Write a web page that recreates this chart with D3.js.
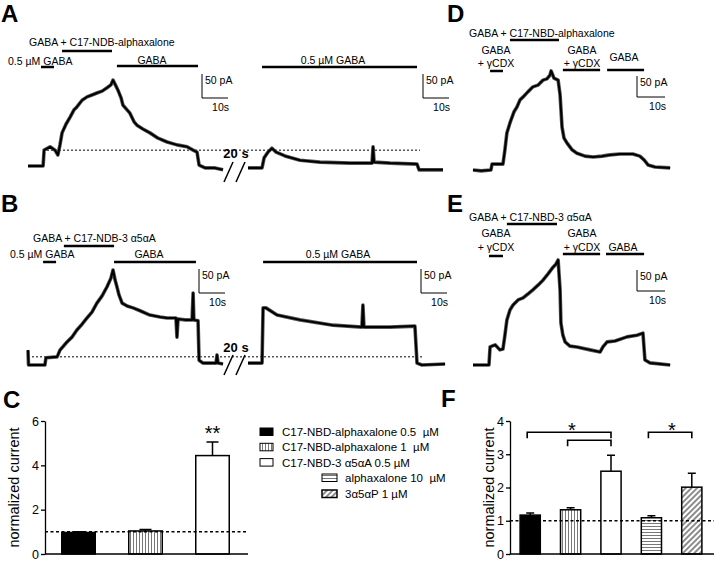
<!DOCTYPE html>
<html>
<head>
<meta charset="utf-8">
<script src="https://cdn.jsdelivr.net/npm/d3@7/dist/d3.min.js"></script>
<style>
  body { margin:0; background:#fff; }
  svg text { font-family:"Liberation Sans", Arial, sans-serif; fill:#000; white-space:pre; }
</style>
</head>
<body>
<div class="canvas"></div>
<script>
// ---- trace data, [time (s), current (pA)] ----
const traceA1 = [[0,0],[5.8,0],[6.2,33],[8.5,40],[10.4,33],[11.5,23],[12.3,44],[13.1,69],[14.6,87],[16.2,102],[17.7,117],[18.8,123],[20.8,137],[22.7,144],[24.6,148],[26.5,152],[28.5,156],[30.4,163],[31.9,169],[32.7,179],[33.8,167],[34.6,158],[35.8,142],[36.5,127],[38.1,117],[39.2,110],[40.8,92],[41.9,85],[44.2,77],[46.9,69],[50,58],[53.5,50],[57.3,44],[61.2,40],[63.5,33],[65,29],[65.8,2],[68.1,-4],[71.9,-4],[75,-8]];
const traceA2 = [[0,-4],[5.4,-4],[6.2,17],[7.7,29],[9.2,37],[10.8,29],[14.2,21],[20,12],[27.7,8],[39.2,6],[47.7,6],[48.1,40],[48.5,8],[54.6,6],[65,4],[65.8,-8],[75,-8]];
const traceB1 = [[0,31],[0.2,0],[6.5,0],[6.9,15],[11.2,17],[12.3,31],[15,48],[16.9,58],[18.8,73],[20.8,85],[22.7,98],[24.6,110],[26.5,129],[28.5,144],[30.4,163],[31.9,181],[32.7,198],[33.5,177],[34.2,163],[35,146],[36.2,129],[38.1,123],[40.4,119],[43.1,113],[46.9,104],[50.8,100],[53.5,98],[56.9,98],[57.3,58],[57.7,96],[60.4,94],[63.1,94],[63.5,150],[63.8,94],[65.4,92],[65.8,10],[67.3,4],[72.3,4],[72.7,21],[73.1,4],[75,2]];
const traceB2 = [[0,4],[5.4,4],[5.8,119],[6.9,119],[11.2,104],[20,94],[32.7,83],[43.8,79],[44.2,125],[44.6,79],[54.6,79],[64.2,81],[65,4],[66.9,0],[75.8,2]];
const traceD = [[0,0],[2.9,-2],[6.4,0],[6.8,14],[10.7,14],[11.4,48],[12.1,88],[13.2,112],[14.6,138],[15.7,150],[16.8,167],[17.9,174],[19.6,186],[21.4,198],[23.2,202],[25,214],[26.4,217],[27.5,226],[27.9,236],[28.9,219],[30.4,214],[31.1,179],[31.8,102],[32.5,76],[33.6,64],[35.4,48],[37.1,40],[40,33],[42.9,31],[46.1,33],[48.9,36],[52.5,38],[57.1,38],[59.6,33],[61.1,24],[62.5,12],[65,7],[70.4,5]];
const traceE = [[0,0],[5.7,0],[6.1,43],[7.9,48],[9.6,36],[10.7,38],[11.4,71],[12.1,107],[13.2,131],[14.3,143],[16.1,155],[17.9,160],[19.6,169],[21.4,179],[23.2,190],[25,202],[26.8,217],[28.6,233],[29.6,240],[30.4,250],[31.1,179],[31.4,100],[32.1,71],[32.9,55],[34.6,45],[37.1,43],[41.8,36],[45.4,31],[46.4,43],[47.9,55],[50.7,57],[55,67],[58.6,71],[60.7,76],[61.4,12],[63.2,5],[70.4,0]];

// application bars [start s, end s]
const stimA1 = [[5,10],[13.1,32.3],[34.2,65.4]];
const stimA2 = [[5.4,65]];
const stimB1 = [[5.8,10.8],[13.8,33.1],[33.1,64.6]];
const stimB2 = [[5.8,65]];
const stimD = [[6.1,10.7],[13.2,30.7],[32.1,45.4],[47.9,61.1]];
const stimE = [[5.7,10.7],[12.1,30],[32.1,45.4],[47.5,61.1]];
const baselineA = 33, baselineB = 17; // dashed reference (pA)

// ---- bar data ----
const barNames = ['C17-NBD-alphaxalone 0.5  \u00b5M','C17-NBD-alphaxalone 1  \u00b5M','C17-NBD-3 \u03b15\u03b1A 0.5 \u00b5M','alphaxalone 10  \u00b5M','3\u03b15\u03b1P 1 \u00b5M'];
const cMeans = [0.97, 1.04, 4.44];
const cErrs  = [0.03, 0.06, 0.61];
const fMeans = [1.17, 1.33, 2.49, 1.09, 2.01];
const fErrs  = [0.06, 0.06, 0.48, 0.06, 0.42];
const cTicks = [0, 2, 4, 6];
const fTicks = [0, 1, 2, 3, 4];

const W = 714, H = 562;
const svg = d3.select('.canvas').append('svg').attr('width', W).attr('height', H);

// patterns
const defs = svg.append('defs');
const pv = defs.append('pattern').attr('id','vert').attr('patternUnits','userSpaceOnUse').attr('width',3).attr('height',3);
pv.append('rect').attr('width',3).attr('height',3).attr('fill','#fff');
pv.append('line').attr('x1',1.5).attr('x2',1.5).attr('y1',0).attr('y2',3).attr('stroke','#555').attr('stroke-width',0.8);
const ph = defs.append('pattern').attr('id','horiz').attr('patternUnits','userSpaceOnUse').attr('width',3).attr('height',3);
ph.append('rect').attr('width',3).attr('height',3).attr('fill','#fff');
ph.append('line').attr('y1',1.5).attr('y2',1.5).attr('x1',0).attr('x2',3).attr('stroke','#555').attr('stroke-width',0.8);
const pd = defs.append('pattern').attr('id','diag').attr('patternUnits','userSpaceOnUse').attr('width',4).attr('height',4).attr('patternTransform','rotate(45)');
pd.append('rect').attr('width',4).attr('height',4).attr('fill','#fff');
pd.append('line').attr('x1',2).attr('x2',2).attr('y1',0).attr('y2',4).attr('stroke','#000').attr('stroke-width',0.9);
const fills = ['#000','url(#vert)','#fff','url(#horiz)','url(#diag)'];

// panel letters
[['A',1,22],['B',1,212],['C',3,408],['D',447,22],['E',447,212],['F',441,407]].forEach(l => {
  svg.append('text').attr('x',l[1]).attr('y',l[2]).attr('font-size',24).attr('font-weight','bold').text(l[0]);
});

const line = (xs, ys) => d3.line().x(d => xs(d[0])).y(d => ys(d[1]));

function trace(data, xs, ys) {
  svg.append('path').datum(data).attr('d', line(xs, ys))
    .attr('fill','none').attr('stroke','#555').attr('stroke-width',3.6).attr('stroke-linejoin','round');
  svg.append('path').datum(data).attr('d', line(xs, ys))
    .attr('fill','none').attr('stroke','#000').attr('stroke-width',2).attr('stroke-linejoin','round');
}
function stim(data, xs, yPos) {
  data.forEach((s, i) => {
    svg.append('line').attr('x1',xs(s[0])).attr('x2',xs(s[1]))
      .attr('y1',yPos[i]).attr('y2',yPos[i]).attr('stroke','#000').attr('stroke-width',2.5);
  });
}
function scaleBar(x0, y0, xs, ys) {
  const lx = xs(10) - xs(0), ly = ys(0) - ys(50);
  svg.append('path').attr('d', `M${x0},${y0 - ly}V${y0}H${x0 + lx}`)
    .attr('fill','none').attr('stroke','#000').attr('stroke-width',1);
  svg.append('text').attr('x',x0+3).attr('y',y0-ly+10).attr('font-size',10.5).text('50 pA');
  svg.append('text').attr('x',x0+lx+1).attr('y',y0+13).attr('font-size',10.5).attr('text-anchor','end').text('10s');
}
function txt(x, y, s, anchor) {
  svg.append('text').attr('x',x).attr('y',y).attr('font-size',10.5).attr('text-anchor',anchor || 'start').text(s);
}
function brk(yTop, yText) {
  svg.append('line').attr('x1',224).attr('y1',yTop+20).attr('x2',233).attr('y2',yTop).attr('stroke','#000').attr('stroke-width',1.5);
  svg.append('line').attr('x1',236).attr('y1',yTop+20).attr('x2',245).attr('y2',yTop).attr('stroke','#000').attr('stroke-width',1.5);
  svg.append('text').attr('x',236).attr('y',yText).attr('font-size',13).attr('font-weight','bold').attr('text-anchor','middle').text('20 s');
}
function dashed(x1, x2, y) {
  svg.append('line').attr('x1',x1).attr('x2',x2).attr('y1',y).attr('y2',y)
    .attr('stroke','#000').attr('stroke-width',1).attr('stroke-dasharray','2,2');
}

// ---- panel A ----
const xA1 = d3.scaleLinear().domain([0,75]).range([28,223]);
const xA2 = d3.scaleLinear().domain([0,75]).range([248,443]);
const yA = d3.scaleLinear().domain([0,100]).range([166,118]);
dashed(43, 420, yA(baselineA));
trace(traceA1, xA1, yA);
trace(traceA2, xA2, yA);
stim(stimA1, xA1, [67,51,66]);
stim(stimA2, xA2, [67]);
txt(29, 46, 'GABA + C17-NDB-alphaxalone');
txt(8, 65, '0.5 \u00b5M GABA');
txt(152, 64, 'GABA', 'middle');
txt(333, 64, '0.5 \u00b5M GABA', 'middle');
scaleBar(202, 98, xA1, yA);
scaleBar(423, 98, xA2, yA);
brk(162, 158);

// ---- panel B ----
const yB = d3.scaleLinear().domain([0,100]).range([365,317]);
dashed(28, 422, yB(baselineB));
trace(traceB1, xA1, yB);
trace(traceB2, xA2, yB);
stim(stimB1, xA1, [262,246,262]);
stim(stimB2, xA2, [262]);
txt(33, 242, 'GABA + C17-NDB-3 \u03b15\u03b1A');
txt(10, 258, '0.5 \u00b5M GABA');
txt(149, 258, 'GABA', 'middle');
txt(338, 258, '0.5 \u00b5M GABA', 'middle');
scaleBar(199, 293, xA1, yB);
scaleBar(421, 293, xA2, yB);
brk(355, 352);

// ---- panel D ----
const xD = d3.scaleLinear().domain([0,10]).range([473,501]);
const yD = d3.scaleLinear().domain([0,50]).range([170,149]);
trace(traceD, xD, yD);
stim(stimD, xD, [71,40,70,70]);
txt(469, 37, 'GABA + C17-NBD-alphaxalone');
txt(496, 54, 'GABA', 'middle'); txt(496, 67, '+ \u03b3CDX', 'middle');
txt(582, 54, 'GABA', 'middle'); txt(582, 67, '+ \u03b3CDX', 'middle');
txt(624, 61, 'GABA', 'middle');
scaleBar(637, 97, xD, yD);

// ---- panel E ----
const yE = d3.scaleLinear().domain([0,50]).range([365,344]);
trace(traceE, xD, yE);
stim(stimE, xD, [256,224,254,254]);
txt(469, 221, 'GABA + C17-NBD-3 \u03b15\u03b1A');
txt(496, 237, 'GABA', 'middle'); txt(496, 251, '+ \u03b3CDX', 'middle');
txt(582, 237, 'GABA', 'middle'); txt(582, 251, '+ \u03b3CDX', 'middle');
txt(623, 251, 'GABA', 'middle');
scaleBar(637, 291, xD, yE);

// ---- bar charts ----
function barChart(means, errs, idx, x0, x1, ticks, yTop, capW, labelX) {
  const y = d3.scaleLinear().domain([0, d3.max(ticks)]).range([554, yTop]);
  const x = d3.scaleBand().domain(idx).range([x0, x1]).paddingInner(0.5).paddingOuter(0.25);
  const g = svg.append('g');
  // error whiskers
  g.selectAll('.err').data(idx).enter().append('path')
    .attr('d', (d,i) => {
      const cx = x(d) + x.bandwidth()/2;
      return `M${cx},${y(means[i])}V${y(means[i]+errs[i])}M${cx-capW/2},${y(means[i]+errs[i])}H${cx+capW/2}`;
    })
    .attr('stroke','#000').attr('stroke-width',1.5).attr('fill','none');
  g.selectAll('rect').data(idx).enter().append('rect')
    .attr('x', d => x(d)).attr('width', x.bandwidth())
    .attr('y', (d,i) => y(means[i])).attr('height', (d,i) => y(0) - y(means[i]))
    .attr('fill', d => fills[d]).attr('stroke','#000').attr('stroke-width',1.5);
  // dashed line at 1
  g.append('line').attr('x1',x0).attr('x2',x1 + 2).attr('y1',y(1)).attr('y2',y(1))
    .attr('stroke','#000').attr('stroke-width',1.5).attr('stroke-dasharray','3,2.5');
  // axes
  const ax = g.append('g').attr('transform',`translate(${x0},0)`)
    .call(d3.axisLeft(y).tickValues(ticks).tickFormat(d3.format('d')).tickSize(4).tickSizeOuter(0).tickPadding(2));
  ax.select('.domain').attr('stroke-width',1.3);
  ax.selectAll('.tick line').attr('stroke-width',1.3);
  ax.selectAll('.tick text').attr('font-size',12.5).attr('font-family','"Liberation Sans", Arial, sans-serif').attr('fill','#333');
  g.append('line').attr('x1',x0).attr('x2',x1+2).attr('y1',y(0)).attr('y2',y(0)).attr('stroke','#000').attr('stroke-width',1.3);
  g.append('text').attr('transform',`translate(${labelX},${(y(0)+yTop)/2}) rotate(-90)`)
    .attr('text-anchor','middle').attr('font-size',14.5).text('normalized current');
  return {x, y};
}

const C = barChart(cMeans, cErrs, [0,1,2], 45, 246, cTicks, 421, 12, 19);
svg.append('text').attr('x', C.x(2) + C.x.bandwidth()/2).attr('y', 440)
  .attr('text-anchor','middle').attr('font-size',20).text('**');

const F = barChart(fMeans, fErrs, [0,1,2,3,4], 510, 712, fTicks, 421, 8, 494);
// significance brackets [from, to, level]
const brackets = [[0,2,3.66],[1,2,3.42],[3,4,3.66]];
brackets.forEach(b => {
  const xa = F.x(b[0]) + F.x.bandwidth()/2 - 3, xb = F.x(b[1]) + F.x.bandwidth()/2;
  const yy = F.y(b[2]);
  svg.append('path').attr('d',`M${xa},${yy+6}V${yy}H${xb}V${yy+6}`)
    .attr('fill','none').attr('stroke','#000').attr('stroke-width',1.6);
});
svg.append('text').attr('x',572).attr('y',437).attr('text-anchor','middle').attr('font-size',20).text('*');
svg.append('text').attr('x',672).attr('y',437).attr('text-anchor','middle').attr('font-size',20).text('*');

// ---- legend ----
barNames.forEach((name, i) => {
  const sx = i < 3 ? 260 : 322, sw = i < 3 ? 13 : 15;
  const sy = i < 3 ? 428 + 15.3 * i : 474 + 16 * (i - 3);
  svg.append('rect').attr('x',sx).attr('y',sy).attr('width',sw).attr('height',7.5)
    .attr('fill',fills[i]).attr('stroke','#000').attr('stroke-width', i === 4 ? 1.5 : 1);
  svg.append('text').attr('x', sx + (i < 3 ? 22 : 23)).attr('y', sy + 8).attr('font-size',11.5).attr('fill','#222').text(name);
});
</script>
</body>
</html>
